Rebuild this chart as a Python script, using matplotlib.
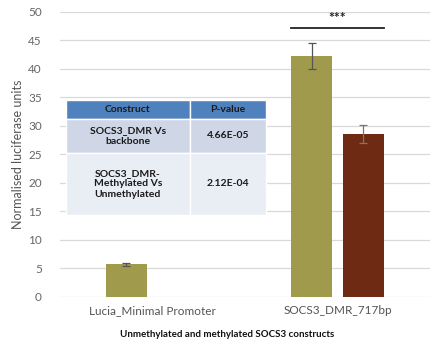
import numpy as np
import matplotlib
matplotlib.use("Agg")
import matplotlib.pyplot as plt

plt.rcParams['font.family'] = ['Lato', 'DejaVu Sans']

categories = ["Lucia_Minimal Promoter", "SOCS3_DMR_717bp"]
unmethylated = [5.7, 42.3]
unmethylated_err = [0.25, 2.3]
methylated = [np.nan, 28.6]
methylated_err = [np.nan, 1.6]

table_header = ["Construct", "P-value"]
table_rows = [["SOCS3_DMR Vs\nbackbone", "4.66E-05"],
              ["SOCS3_DMR-\nMethylated Vs\nUnmethylated", "2.12E-04"]]

green = "#a09a4c"
brown = "#6e2a12"

fig = plt.figure(figsize=(4.37, 3.49), dpi=100)
ax = fig.add_axes([0.137, 0.149, 0.847, 0.817])

x = np.arange(len(categories))
w = 0.22
off = 0.14
ax.bar(x - off, unmethylated, w, color=green, yerr=unmethylated_err,
       error_kw=dict(ecolor="#555555", elinewidth=0.9, capsize=3, capthick=0.9), zorder=3)
ax.bar(x + off, methylated, w, color=brown, yerr=methylated_err,
       error_kw=dict(ecolor="#777777", elinewidth=0.9, capsize=3, capthick=0.9), zorder=3)

ax.set_xlim(-0.5, 1.5)
ax.set_ylim(0, 50)
ax.set_yticks(range(0, 51, 5))
ax.set_xticks(x)
ax.set_xticklabels(categories, fontsize=8.5, color="#555555")
ax.tick_params(axis='y', labelsize=8.5, labelcolor="#666666", length=0, pad=13)
ax.tick_params(axis='x', length=0, pad=6)
ax.grid(axis='y', color="#d9d9d9", linewidth=0.9, zorder=0)
for s in ax.spines.values():
    s.set_visible(False)
ax.set_ylabel("Normalised luciferase units", fontsize=9, color="#555555", labelpad=3)

# significance bar
ax.plot([1 - off - w / 2, 1 + off + w / 2], [47.2, 47.2], color="#222222", lw=1.3, zorder=4)
ax.text(1, 47.9, "***", ha='center', va='bottom', fontsize=10, fontweight='bold', color="#222222")

fig.text(0.52, 0.035, "Unmethylated and methylated SOCS3 constructs", ha='center',
         fontsize=7, fontweight='bold', color="#111111")

tab = ax.table(cellText=table_rows, colLabels=table_header, cellLoc='center',
               bbox=[0.016, 0.288, 0.541, 0.403], zorder=5)
tab.auto_set_font_size(False)
heights = [0.19, 0.34, 0.62]
widths = [0.62, 0.38]
fills = ["#4f81bd", "#cfd7e7", "#e9edf4"]
for (r, c), cell in tab.get_celld().items():
    cell.set_height(heights[r])
    cell.set_width(widths[c])
    cell.set_facecolor(fills[r])
    cell.set_edgecolor("white")
    cell.set_linewidth(1.0)
    cell.get_text().set_fontsize(7.5)
    cell.get_text().set_fontweight('bold')
    cell.get_text().set_color("#1a1a1a")
    cell.get_text().set_linespacing(1.25)

fig.savefig("out.png", dpi=100, facecolor="white")
